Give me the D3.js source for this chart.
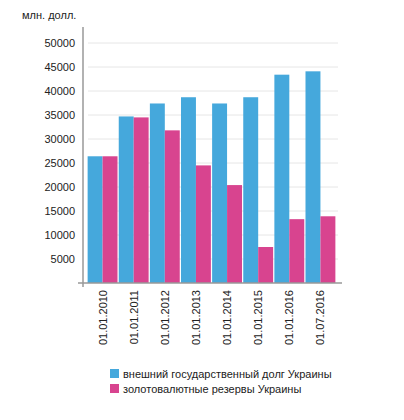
<!DOCTYPE html><html><head><meta charset="utf-8"><script src="https://cdn.jsdelivr.net/npm/d3@7"></script>
<style>body{margin:0;background:#fff}text{font-family:Arial,"Liberation Sans",sans-serif;fill:#222}</style></head><body><svg width="404" height="420"></svg><script>
const categories=["01.01.2010","01.01.2011","01.01.2012","01.01.2013","01.01.2014","01.01.2015","01.01.2016","01.07.2016"];
const debt=[26400,34700,37400,38700,37400,38700,43400,44100];
const reserves=[26400,34500,31800,24500,20400,7500,13300,13900];
const seriesNames=["внешний государственный долг Украины","золотовалютные резервы Украины"];
const colors=["#45a8dc","#d8448f"];
const yTicks=[5000,10000,15000,20000,25000,30000,35000,40000,45000,50000];
const svg=d3.select("svg");
const y=d3.scaleLinear().domain([0,50000]).range([283,43]);
const x=d3.scaleBand().domain(categories).range([87,336]).paddingInner(0.04).paddingOuter(0.02);
const x2=d3.scaleBand().domain([0,1]).range([0,x.bandwidth()]);
svg.append("g").selectAll("line").data(yTicks).join("line").attr("x1",88).attr("x2",338).attr("y1",d=>y(d)).attr("y2",d=>y(d)).attr("stroke","#e6e6e6");
svg.append("g").selectAll("text").data(yTicks).join("text").attr("x",75).attr("y",d=>y(d)+4).attr("text-anchor","end").attr("font-size",11).text(d=>d);
svg.append("text").attr("x",22).attr("y",19).attr("font-size",11).text("млн. долл.");
[debt,reserves].forEach((s,i)=>{
 svg.append("g").selectAll("rect").data(s).join("rect").attr("x",(d,j)=>x(categories[j])+x2(i)).attr("width",x2.bandwidth()).attr("y",d=>y(d)).attr("height",d=>283-y(d)).attr("fill",colors[i]);
});
svg.append("line").attr("x1",83).attr("x2",83).attr("y1",27).attr("y2",287).attr("stroke","#999").attr("stroke-width",1.5);
svg.append("line").attr("x1",78).attr("x2",342).attr("y1",283).attr("y2",283).attr("stroke","#999").attr("stroke-width",1.5);
svg.append("g").selectAll("text").data(categories).join("text").attr("transform",d=>`translate(${x(d)+x.bandwidth()/2+4},290) rotate(-90)`).attr("text-anchor","end").attr("font-size",11).text(d=>d);
seriesNames.forEach((n,i)=>{
 svg.append("rect").attr("x",110).attr("y",369+i*15).attr("width",9).attr("height",9).attr("fill",colors[i]);
 svg.append("text").attr("x",123).attr("y",378+i*15).attr("font-size",11).text(n);
});
</script></body></html>
